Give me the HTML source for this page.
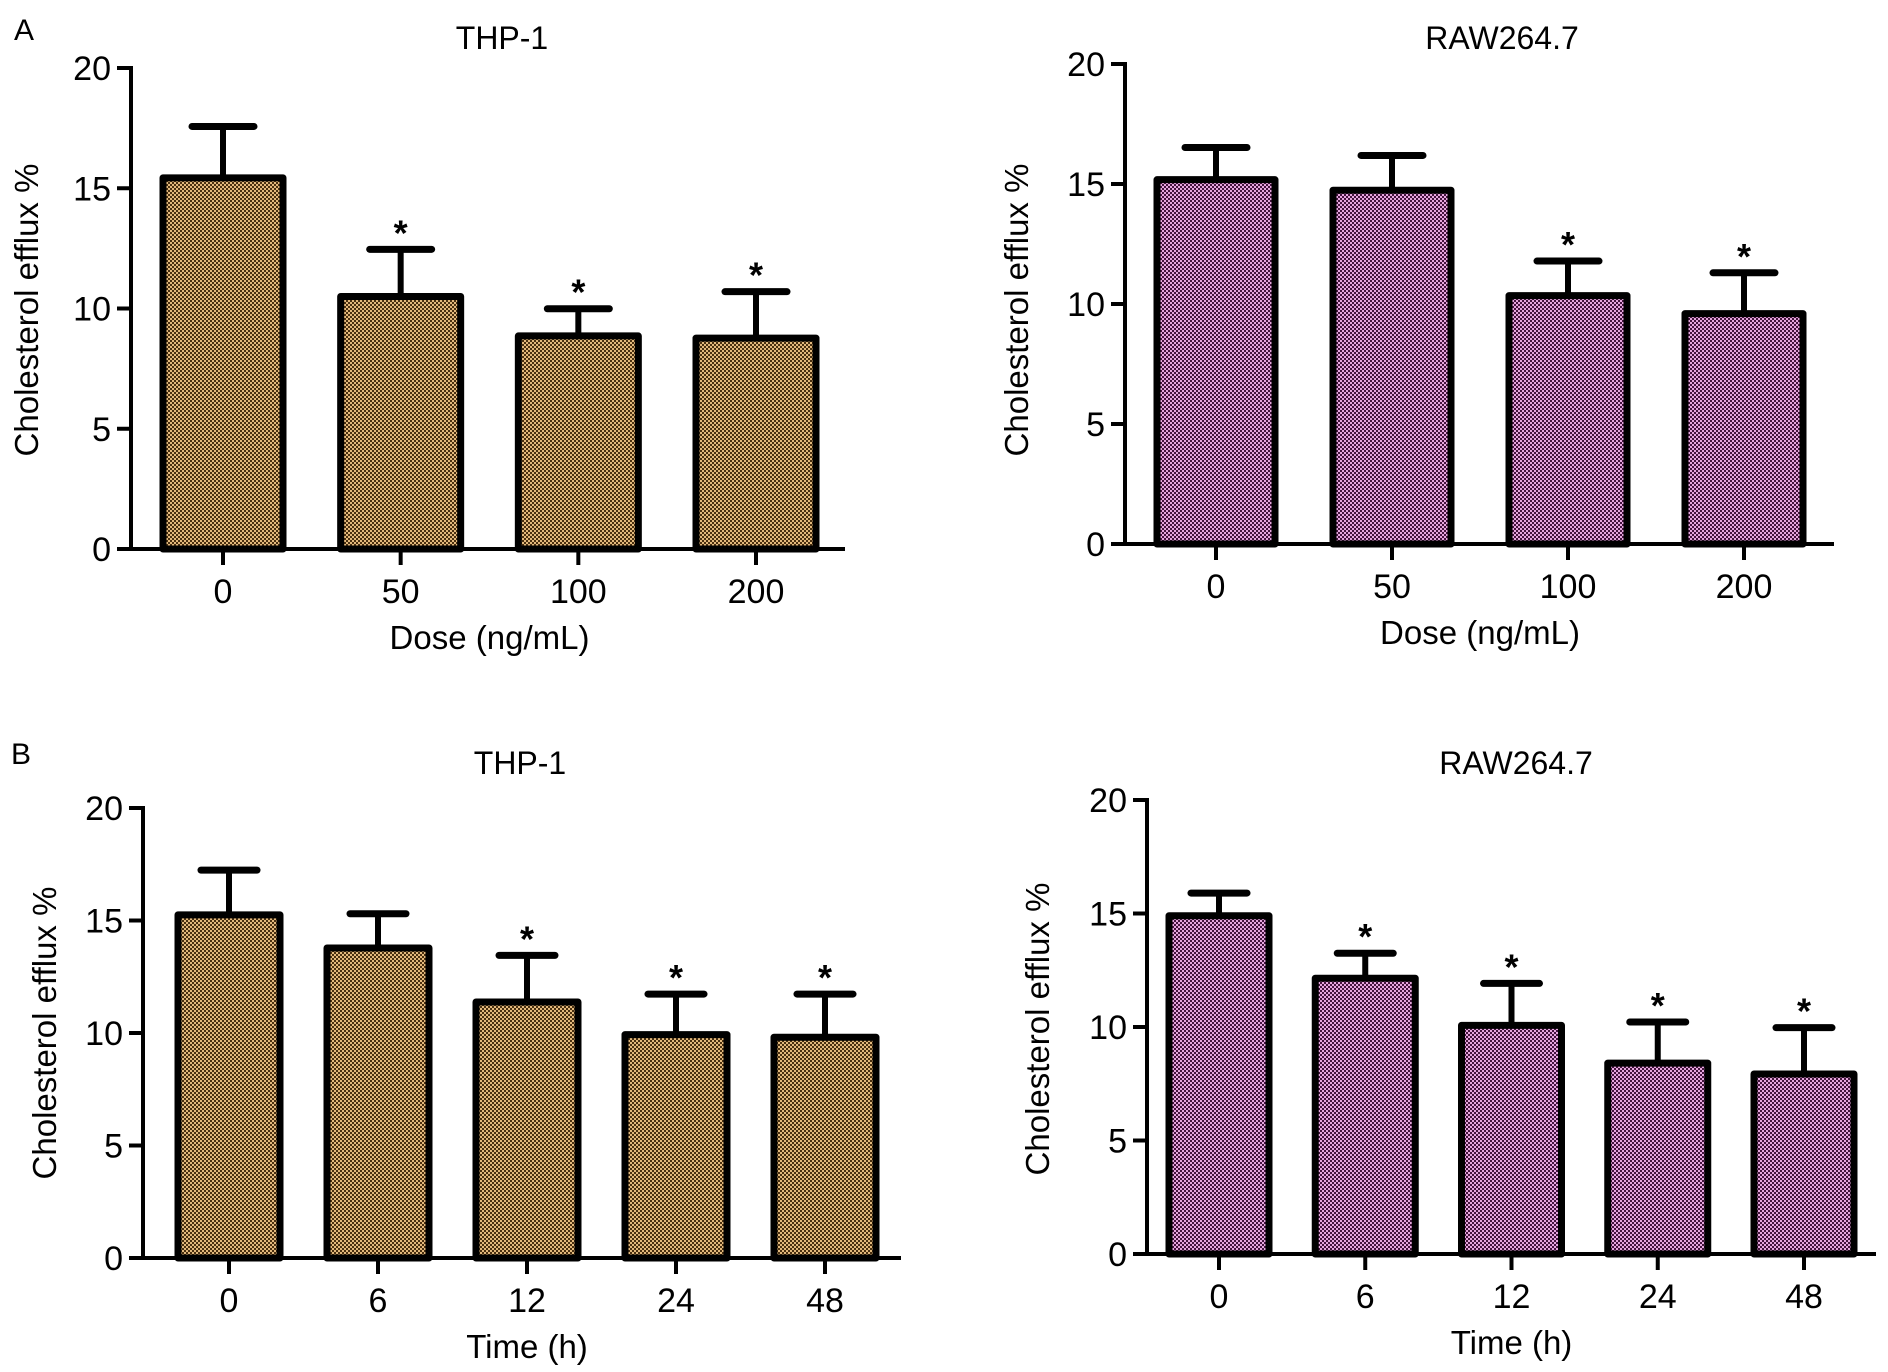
<!DOCTYPE html>
<html><head><meta charset="utf-8"><style>
html,body{margin:0;padding:0;background:#fff;}
svg{display:block;font-family:"Liberation Sans",Arial,sans-serif;}
</style></head><body>
<svg id="fig" width="1888" height="1372" viewBox="0 0 1888 1372" xmlns="http://www.w3.org/2000/svg">
<defs>
<pattern id="pbrown" width="4" height="4" patternUnits="userSpaceOnUse">
<rect width="4" height="4" fill="#4a3010"/><rect width="2" height="2" fill="#e2b87c"/><rect x="2" y="2" width="2" height="2" fill="#e2b87c"/>
</pattern>
<pattern id="ppink" width="4" height="4" patternUnits="userSpaceOnUse">
<rect width="4" height="4" fill="#44143e"/><rect width="2" height="2" fill="#e6a6de"/><rect x="2" y="2" width="2" height="2" fill="#e6a6de"/>
</pattern>
</defs>
<text x="24" y="40" font-size="30" text-anchor="middle">A</text>
<text x="21" y="764" font-size="30" text-anchor="middle">B</text>
</svg>
<script>
// Panel A THP-1 (dose)
const doseCats = ["0","50","100","200"];
const aThpMean = [15.43,10.5,8.86,8.77];
const aThpErr = [17.57,12.46,9.99,10.7];
const aThpSig = [false,true,true,true];
// Panel A RAW264.7 (dose)
const aRawMean = [15.18,14.74,10.35,9.6];
const aRawErr = [16.52,16.19,11.79,11.3];
const aRawSig = [false,false,true,true];
// Panel B THP-1 (time)
const timeCats = ["0","6","12","24","48"];
const bThpMean = [15.25,13.78,11.38,9.93,9.81];
const bThpErr = [17.24,15.3,13.45,11.73,11.73];
const bThpSig = [false,false,true,true,true];
// Panel B RAW264.7 (time)
const bRawMean = [14.9,12.15,10.07,8.41,7.93];
const bRawErr = [15.9,13.25,11.92,10.22,9.97];
const bRawSig = [false,true,true,true,true];
const yTicks = [0,5,10,15,20];

const svg = document.getElementById('fig');
const NS = 'http://www.w3.org/2000/svg';
function mk(tag, attrs, parent){
  const e = document.createElementNS(NS, tag);
  for (const k in attrs) e.setAttribute(k, attrs[k]);
  (parent||svg).appendChild(e);
  return e;
}
function panel(cfg){
  const g = mk('g', {});
  
  
  const yScale = v => cfg.y0 - (cfg.y0 - cfg.y20) * v / 20;
  const n = cfg.cats.length;
  const xScale = i => cfg.first + i * (cfg.last - cfg.first) / (n - 1);
  const t = mk('text', {x: cfg.titleX, y: cfg.titleY + 2, 'font-size': 32, 'text-anchor': 'middle'}, g);
  t.textContent = cfg.title;
  
  
  const yl = mk('text', {x: 0, y: 0, 'font-size': 33, 'text-anchor': 'middle', transform: `translate(${cfg.ylX + 2},${cfg.ylY}) rotate(-90)`}, g);
  yl.textContent = 'Cholesterol efflux %';
  
  
  const xl = mk('text', {x: (cfg.first + cfg.last) / 2, y: cfg.y0 + 100, 'font-size': 33, 'text-anchor': 'middle'}, g);
  xl.textContent = cfg.xTitle;
  
  
  for (let i = 0; i < n; i++){
    const cx = xScale(i), top = yScale(cfg.mean[i]), et = yScale(cfg.err[i]);
    const st = mk('line', {x1: cx, x2: cx, y1: et, y2: top, stroke: '#000', 'stroke-width': 6}, g);
    
    
    const cap = mk('line', {x1: cx - cfg.cap / 2, x2: cx + cfg.cap / 2, y1: et, y2: et, stroke: '#000', 'stroke-width': 7, 'stroke-linecap': 'round'}, g);
    
    
    const b = mk('rect', {x: cx - cfg.bw / 2, y: top, width: cfg.bw, height: cfg.y0 - top, fill: cfg.fill, stroke: '#000', 'stroke-width': 7, 'stroke-linejoin': 'round'}, g);
    
    
    if (cfg.sig[i]){
      const s = mk('text', {x: cx, y: et - 4, 'font-size': 36, 'text-anchor': 'middle', 'font-weight': 'bold'}, g);
      s.textContent = '*';
      
      
    }
    const tk = mk('line', {x1: cx, x2: cx, y1: cfg.y0, y2: cfg.y0 + 16, stroke: '#000', 'stroke-width': 4}, g);
    
    
    const tl = mk('text', {x: cx, y: cfg.y0 + 54, 'font-size': 34, 'text-anchor': 'middle'}, g);
    tl.textContent = cfg.cats[i];
    
    
  }
  const ya = mk('line', {x1: cfg.ax, x2: cfg.ax, y1: cfg.y20 - 2, y2: cfg.y0 + 2, stroke: '#000', 'stroke-width': 4}, g);
  
  
  const xa = mk('line', {x1: cfg.ax - 14, x2: cfg.xend, y1: cfg.y0, y2: cfg.y0, stroke: '#000', 'stroke-width': 4}, g);
  
  
  yTicks.forEach(v => {
    const y = yScale(v);
    const tk = mk('line', {x1: cfg.ax - 14, x2: cfg.ax, y1: y, y2: y, stroke: '#000', 'stroke-width': 4}, g);
    
    
    const tl = mk('text', {x: cfg.ax - 20, y: y + 12, 'font-size': 34, 'text-anchor': 'end'}, g);
    tl.textContent = String(v);
    
    
  });
}
panel({name:'chart-a-thp1', title:'THP-1', titleX:502, titleY:47, ylX:36, ylY:310, xTitle:'Dose (ng/mL)',
  cats:doseCats, mean:aThpMean, err:aThpErr, sig:aThpSig, fill:'url(#pbrown)',
  ax:131, y0:549, y20:68, first:223, last:756, bw:120, cap:62, xend:845});
panel({name:'chart-a-raw', title:'RAW264.7', titleX:1502, titleY:47, ylX:1026, ylY:310, xTitle:'Dose (ng/mL)',
  cats:doseCats, mean:aRawMean, err:aRawErr, sig:aRawSig, fill:'url(#ppink)',
  ax:1125, y0:544, y20:64, first:1216, last:1744, bw:118, cap:62, xend:1834});
panel({name:'chart-b-thp1', title:'THP-1', titleX:520, titleY:772, ylX:54, ylY:1033, xTitle:'Time (h)',
  cats:timeCats, mean:bThpMean, err:bThpErr, sig:bThpSig, fill:'url(#pbrown)',
  ax:143, y0:1258, y20:808, first:229, last:825, bw:102, cap:56, xend:901});
panel({name:'chart-b-raw', title:'RAW264.7', titleX:1516, titleY:772, ylX:1047, ylY:1029, xTitle:'Time (h)',
  cats:timeCats, mean:bRawMean, err:bRawErr, sig:bRawSig, fill:'url(#ppink)',
  ax:1147, y0:1254, y20:800, first:1219, last:1804, bw:100, cap:56, xend:1876});
</script>
</body></html>
